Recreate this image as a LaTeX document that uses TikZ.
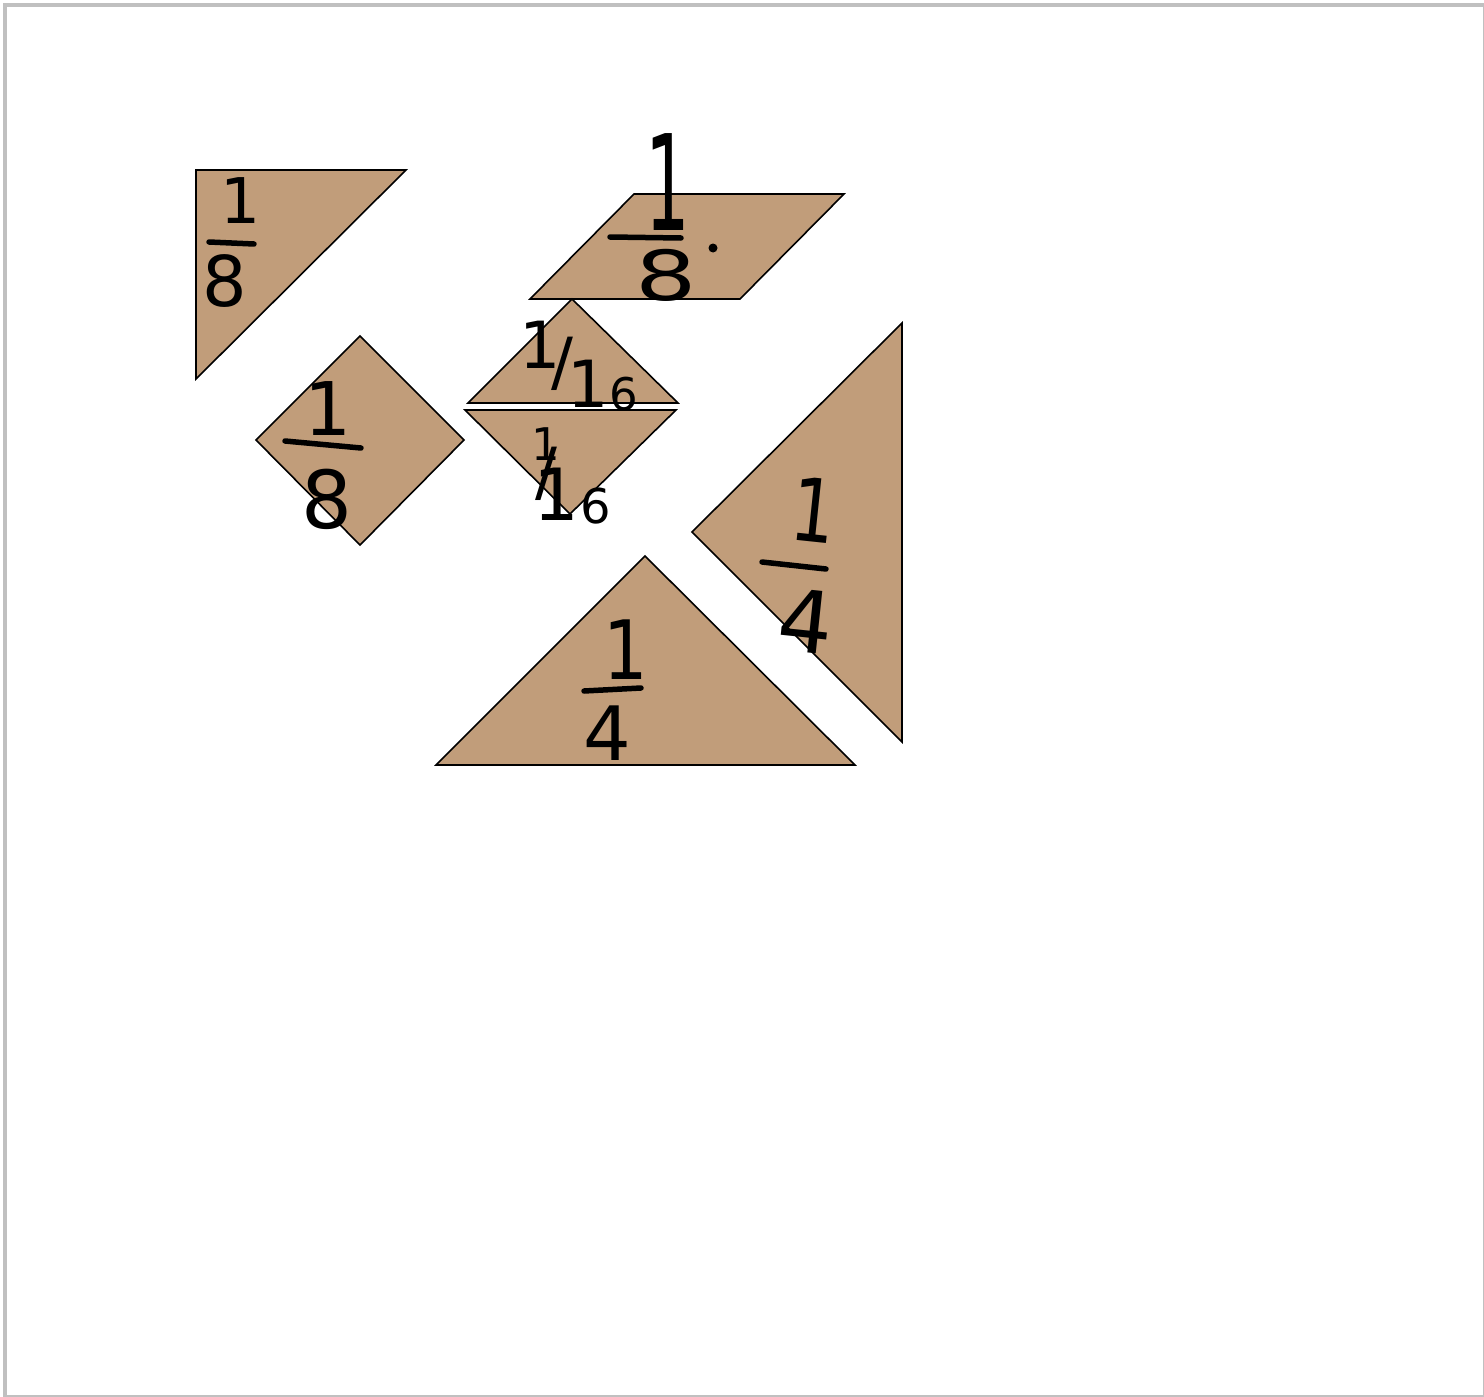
\documentclass[tikz,border=0pt]{standalone}
\usepackage{fontspec}
\newfontfamily\handfont{DejaVu Sans}
\definecolor{piecefill}{RGB}{193,157,122}
\definecolor{framegray}{RGB}{192,192,192}
\begin{document}
\begin{tikzpicture}[x=1pt,y=-1pt,
  piece/.style={draw=black, fill=piecefill, line width=1.6pt, line join=miter},
  ink/.style={font=\handfont\fontsize{#1}{#1}\selectfont, inner sep=0pt, text=black},
  inkbar/.style={line width=5.5pt, line cap=round}]
\useasboundingbox (0,0) rectangle (1484,1397);
\draw[draw=framegray, line width=4.5pt] (5,5) rectangle (1485,1397);
% pieces
\draw[piece] (196,170) -- (406,170) -- (196,379) -- cycle;
\draw[piece] (360,336) -- (464,440) -- (360,545) -- (256,440) -- cycle;
\draw[piece] (634,194) -- (844,194) -- (740,299) -- (530,299) -- cycle;
\draw[piece] (572,299) -- (678,403) -- (468,403) -- cycle;
\draw[piece] (465,410) -- (676,410) -- (570,514) -- cycle;
\draw[piece] (902,323) -- (902,742) -- (692,532) -- cycle;
\draw[piece] (645,556) -- (855,765) -- (436,765) -- cycle;
% labels: small triangle top-left
\node[ink=63] (a1) at (241,201) {1};
\node[ink=70] (a8) at (225,281) {8};
\draw[inkbar] (209,242) -- (254,244);
% square
\node[ink=74] (b1) at (328,409) {1};
\node[ink=80] (b8) at (327,499) {8};
\draw[inkbar] (285,441) -- (361,448);
% parallelogram
\node[ink=70] (c1) at (668,182) {\scalebox{1}[1.9]{1}};
\node[ink=69] (c8) at (666,275) {\scalebox{1.4}[1]{8}};
\draw[inkbar] (610,237) -- (681,238);
\fill (713,248) circle (4.5);
% small triangles
\node[ink=65, anchor=base west] (d) at (519,368)
  {1\kern-8.6pt\raisebox{-16.5pt}{/}\kern-6pt\raisebox{-39pt}{1}\raisebox{-42pt}{\fontsize{45}{45}\selectfont 6}};
\node[ink=65, anchor=base west] (e) at (531,520)
  {\raisebox{60pt}{\fontsize{45}{45}\selectfont 1}\kern-24.6pt\raisebox{25.5pt}{/}\kern-24pt{\fontsize{72}{72}\selectfont 1}\kern2pt{\fontsize{48}{48}\selectfont\raisebox{-3pt}{6}}};
% large triangle right
\node[ink=70, rotate=-6] (f1) at (814,510) {\scalebox{1}[1.25]{1}};
\node[ink=86, rotate=-6] (f4) at (806,621) {4};
\draw[inkbar] (762,562) -- (826,569);
% large triangle bottom
\node[ink=70] (g1) at (626,650) {\scalebox{1}[1.17]{1}};
\node[ink=75] (g4) at (607,733) {4};
\draw[inkbar] (584,691) -- (641,688);
\end{tikzpicture}
\end{document}
